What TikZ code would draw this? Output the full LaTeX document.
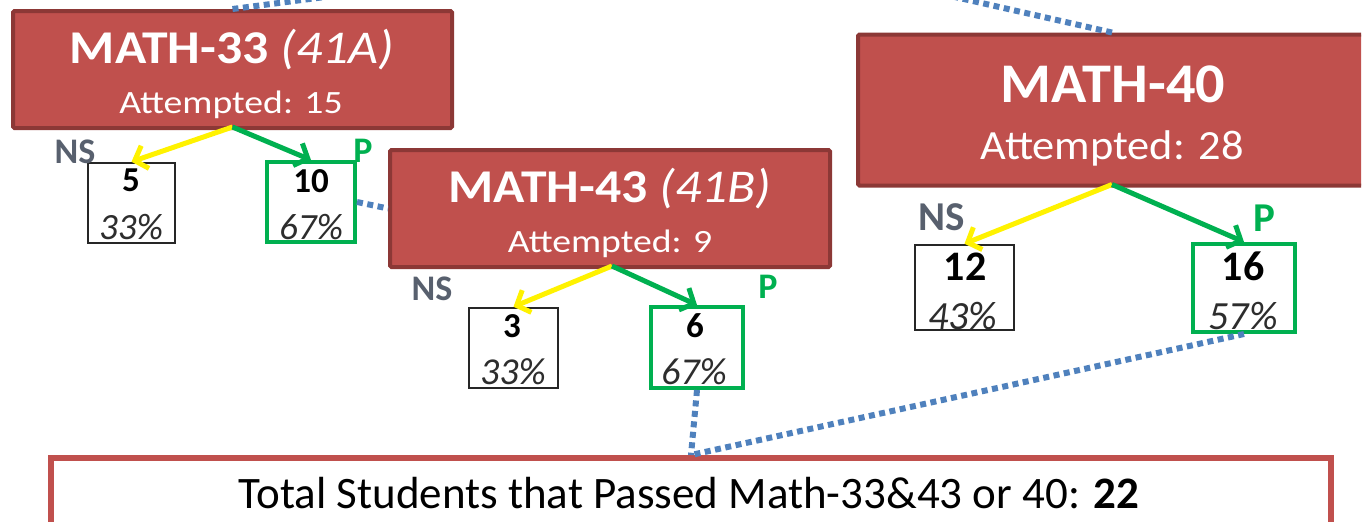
\documentclass[tikz,border=0pt]{standalone}
\usepackage{fontspec}
\setmainfont{Carlito}
\usepackage{graphicx}
\usetikzlibrary{arrows.meta,calc}
\definecolor{boxred}{RGB}{192,80,77}
\definecolor{boxedge}{RGB}{140,56,54}
\definecolor{pgreen}{RGB}{0,176,80}
\definecolor{dotblue}{RGB}{79,129,189}
\definecolor{nsgray}{RGB}{88,96,110}
\definecolor{pctgray}{RGB}{45,45,45}
\newcommand\hsc[2]{\scalebox{#1}[1]{#2}}
\newcommand\fs[1]{\fontsize{#1}{#1}\selectfont}
\begin{document}
\begin{tikzpicture}[x=1pt,y=-1pt,
  redbox/.style={draw=boxedge, fill=boxred, line width=4pt, inner sep=0pt, rounded corners=1.5pt},
  nsbox/.style={draw=black!85, fill=white, line width=2.5pt, inner sep=0pt},
  pbox/.style={draw=pgreen, fill=white, line width=4pt, inner sep=0pt},
  totbox/.style={draw=boxred, fill=white, line width=6pt, inner sep=0pt},
  wtxt/.style={text=white, anchor=base, inner sep=0pt},
  numtxt/.style={text=black, anchor=base, inner sep=0pt},
  pcttxt/.style={text=pctgray, anchor=base, inner sep=0pt},
  nslab/.style={text=nsgray, anchor=base, inner sep=0pt},
  plab/.style={text=pgreen, anchor=base, inner sep=0pt},
  yarrow/.style={draw=yellow, line width=5pt, -{Straight Barb[length=11pt,width=24pt,line width=5pt]}},
  garrow/.style={draw=pgreen, line width=5pt, -{Straight Barb[length=11pt,width=24pt,line width=5pt]}},
  dotline/.style={draw=dotblue, line width=6pt, dash pattern=on 6pt off 4.5pt}
]
\useasboundingbox (0,0) rectangle (1366,522);

% free ends of the dotted connectors
\coordinate (e1) at (325,-3);
\coordinate (e2) at (955,-3);

% boxes
\node[redbox, minimum width=439pt, minimum height=117pt] (m33) at (232.5,69.5) {};
\node[redbox, minimum width=440pt, minimum height=117pt] (m43) at (610,208.5) {};
\begin{scope}
  \clip (0,0) rectangle (1361,522);
  \node[redbox, minimum width=524pt, minimum height=151pt] (m40) at (1120,110) {};
\end{scope}
\node[nsbox, minimum width=87pt, minimum height=80pt] (b5) at (131.5,203) {};
\node[pbox, minimum width=88pt, minimum height=80pt] (b10) at (311,202) {};
\node[nsbox, minimum width=89pt, minimum height=80pt] (b3) at (513.5,348) {};
\node[pbox, minimum width=92pt, minimum height=81pt] (b6) at (697,347.5) {};
\node[nsbox, minimum width=99pt, minimum height=85pt] (b12) at (964.5,287.5) {};
\node[pbox, minimum width=102pt, minimum height=88pt] (b16) at (1244,288) {};
\node[totbox, minimum width=1280pt, minimum height=90pt] (tot) at (691,503) {};

% dotted connectors
\draw[dotline] (m33.north) -- (e1);
\draw[dotline] ($(m40.north)+(-8,0)$) -- (e2);
\draw[dotline] (b10.east) -- (m43.west);
\draw[dotline] (b6.south) -- (tot.north);
\draw[dotline] (b16.south) -- (tot.north);

% titles
\node[wtxt] (t33) at (232,63) {\hsc{1.1}{\fs{47}\bfseries MATH-33 \mdseries\itshape(41A)}};
\node[wtxt] (a33) at (231,113) {\hsc{1.16}{\fs{32.5}Attempted: 15}};
\node[wtxt] (t43) at (610,202) {\hsc{1.1}{\fs{47}\bfseries MATH-43 \mdseries\itshape(41B)}};
\node[wtxt] (a43) at (610,252) {\hsc{1.16}{\fs{32.5}Attempted: 9}};
\node[wtxt] (t40) at (1113,102) {\hsc{1.04}{\fs{56}\bfseries MATH-40}};
\node[wtxt] (a40) at (1112,159) {\hsc{1.07}{\fs{41.5}Attempted: 28}};

% arrows
\draw[yarrow] ($(m33.south)+(0,-3)$) -- (b5.north);
\draw[garrow] ($(m33.south)+(0,-3)$) -- (b10.north);
\draw[yarrow] ($(m43.south)+(2,-3)$) -- (b3.north);
\draw[garrow] ($(m43.south)+(2,-3)$) -- (b6.north);
\draw[yarrow] ($(m40.south)+(-8,-3)$) -- (b12.north);
\draw[garrow] ($(m40.south)+(-8,-3)$) -- (b16.north);

% NS / P labels
\node[nslab, font=\bfseries\fs{36}] (ns33) at (75,163) {NS};
\node[plab, font=\bfseries\fs{36}] (p33) at (363,162) {P};
\node[nslab, font=\bfseries\fs{36}] (ns43) at (432,300) {NS};
\node[plab, font=\bfseries\fs{36}] (p43) at (768,298) {P};
\node[nslab, font=\bfseries\fs{41}] (ns40) at (942,230) {NS};
\node[plab, font=\bfseries\fs{41}] (p40) at (1264,231) {P};

% numbers
\node[numtxt, font=\bfseries\fs{35}] (n5) at (131,191) {5};
\node[pcttxt, font=\itshape\fs{37}] (q5) at (131,239) {33\%};
\node[numtxt, font=\bfseries\fs{35}] (n10) at (311,192) {10};
\node[pcttxt, font=\itshape\fs{37}] (q10) at (311,239) {67\%};
\node[numtxt, font=\bfseries\fs{35}] (n3) at (512,337) {3};
\node[pcttxt, font=\itshape\fs{38}] (q3) at (513,384) {33\%};
\node[numtxt, font=\bfseries\fs{35}] (n6) at (695,337) {6};
\node[pcttxt, font=\itshape\fs{38}] (q6) at (694,384) {67\%};
\node[numtxt, font=\bfseries\fs{42}] (n12) at (965,280) {12};
\node[pcttxt, font=\itshape\fs{40}] (q12) at (963,329) {43\%};
\node[numtxt, font=\bfseries\fs{42}] (n16) at (1243,280) {16};
\node[pcttxt, font=\itshape\fs{40}] (q16) at (1243,329) {57\%};

% total
\node[anchor=base, inner sep=0pt, font=\fs{45}] (ttxt) at (689,508) {Total Students that Passed Math-33\&43 or 40: \textbf{22}};
\end{tikzpicture}
\end{document}
